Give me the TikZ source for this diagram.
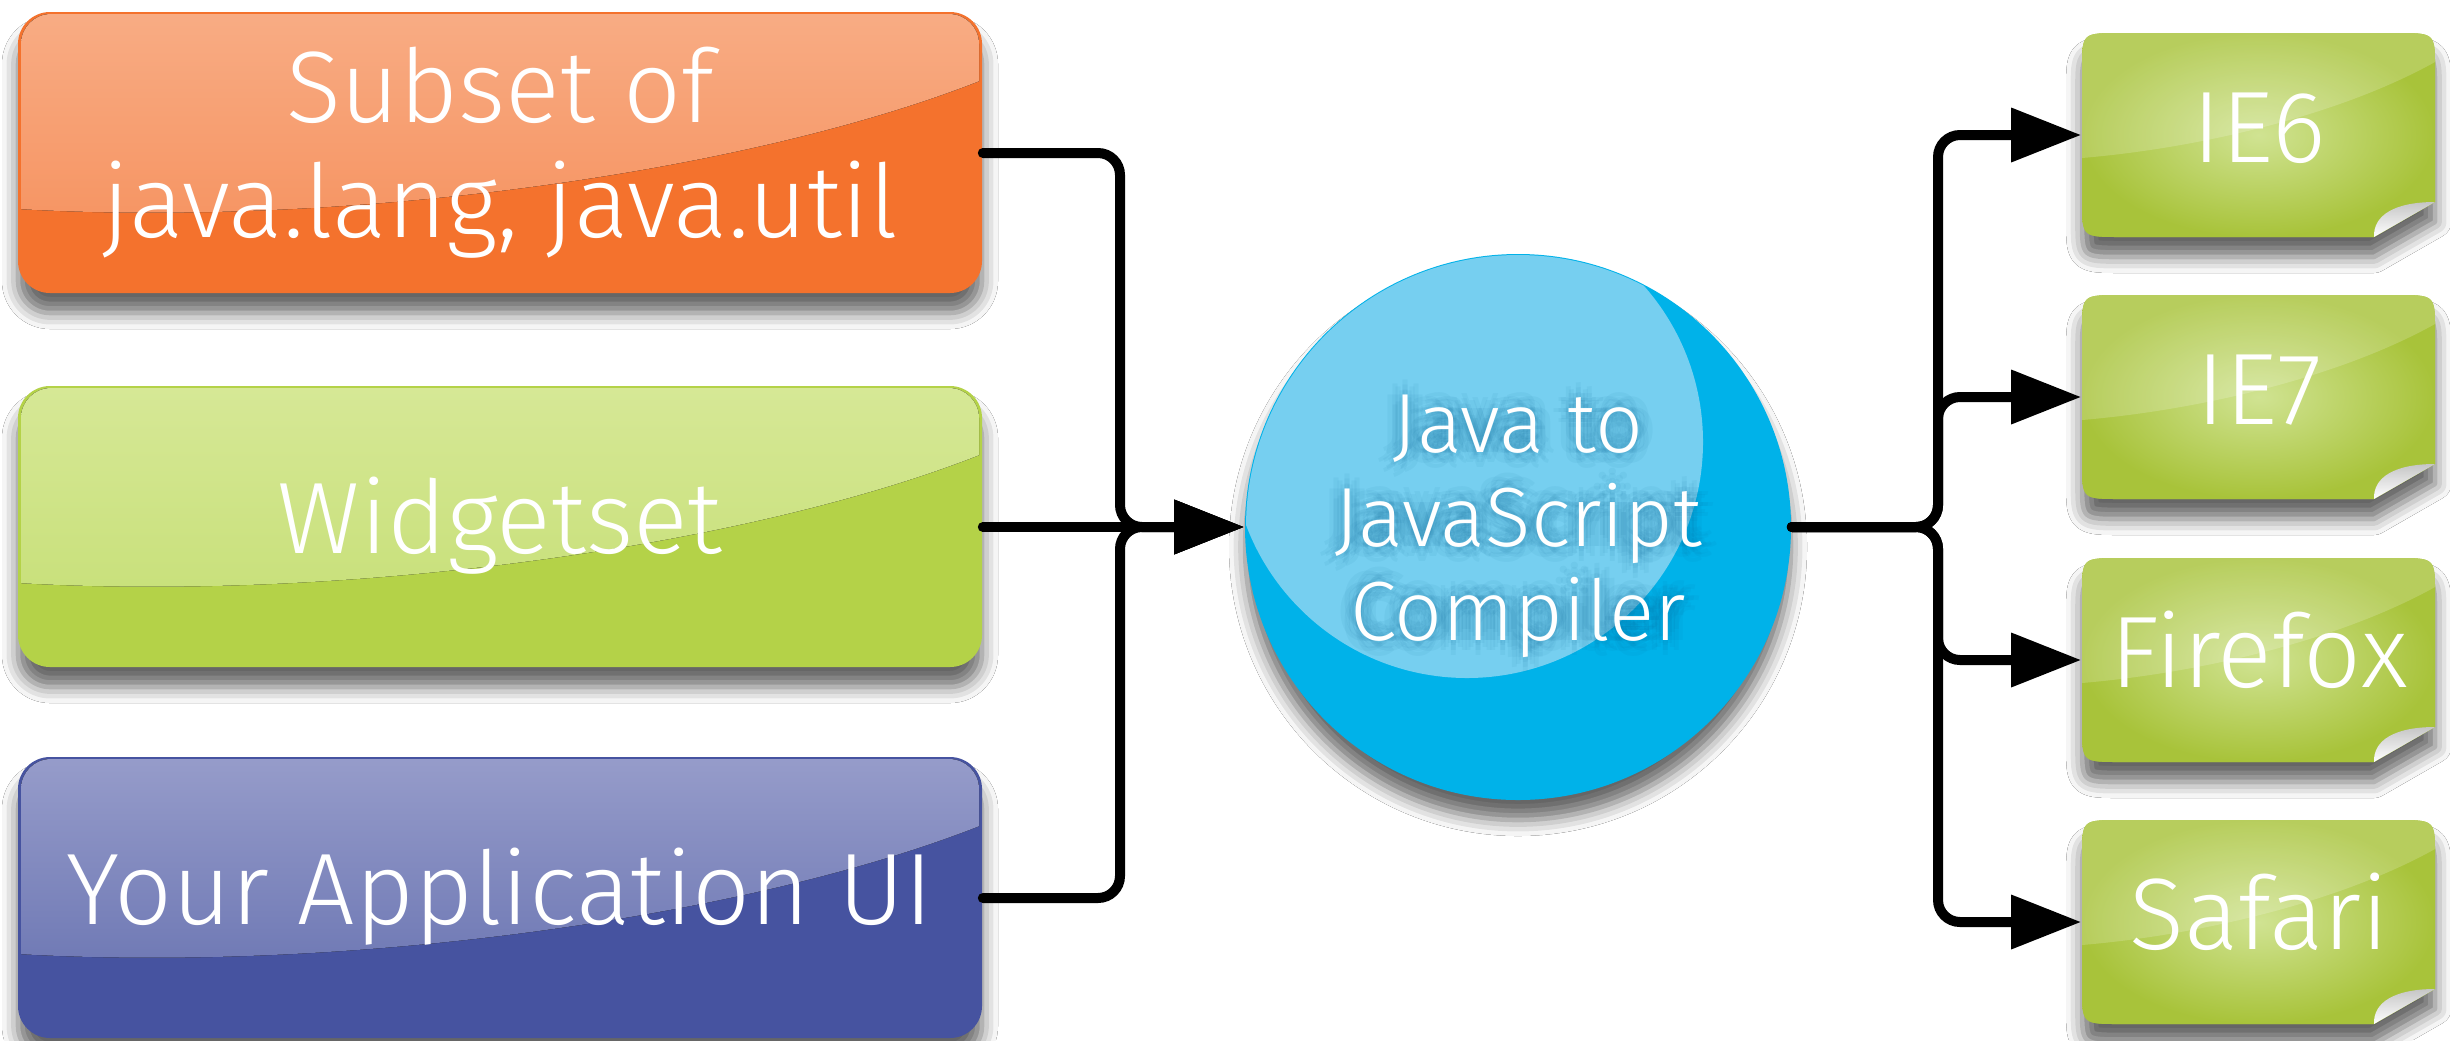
\documentclass[tikz,border=0pt]{standalone}
\usepackage{fontspec}
\IfFontExistsTF{Fira Sans Light}{\setmainfont{Fira Sans Light}}{%
  \IfFontExistsTF{FiraSans-Light}{\setmainfont{FiraSans-Light}}{%
    \IfFontExistsTF{Lato Light}{\setmainfont{Lato Light}}{%
      \IfFontExistsTF{Open Sans Light}{\setmainfont{Open Sans Light}}{%
        \setmainfont{Fira Sans}}}}}
\usetikzlibrary{arrows.meta,shadows.blur}
\definecolor{orA}{RGB}{244,114,45}
\definecolor{orT}{RGB}{248,172,132}
\definecolor{orB}{RGB}{246,148,98}
\definecolor{grA}{RGB}{180,210,72}
\definecolor{grT}{RGB}{214,232,150}
\definecolor{grB}{RGB}{200,224,122}
\definecolor{blA}{RGB}{70,83,160}
\definecolor{blT}{RGB}{150,156,202}
\definecolor{blB}{RGB}{110,120,180}
\definecolor{cyA}{RGB}{0,178,233}
\definecolor{cyL}{RGB}{118,207,240}
\definecolor{lgA}{RGB}{168,195,58}
\definecolor{lgC}{RGB}{208,227,146}
\definecolor{glowc}{RGB}{0,90,140}
\tikzset{
  conn/.style={draw=black, line width=2.5pt, line cap=round, rounded corners=5.5pt,
    -{Triangle[length=17.5pt,width=13pt,fill=black,color=black]}},
  lbl/.style={text=white, font=\fontsize{25.4}{30}\selectfont, anchor=base, inner sep=0pt},
  clbl/.style={text=white, font=\fontsize{21}{25}\selectfont, anchor=base, inner sep=0pt},
  glowlbl/.style={clbl, text=glowc, opacity=0.05},
  boxnode/.style={draw=none, inner sep=0pt, rectangle},
  shad/.style={blur shadow={shadow xshift=0pt, shadow yshift=-5pt,
    shadow blur radius=4pt, shadow opacity=60}},
}
\newcommand\lbox[4]{%
  \fill[#2, rounded corners=8pt, shad] (18,#1) rectangle (982,#1+281);
  \begin{scope}
    \clip[rounded corners=7.5pt] (21,#1+2) rectangle (979,#1+279);
    \fill[top color=#3, bottom color=#4] (18,#1) -- (18,#1+197)
      .. controls (350,#1+216) and (750,#1+160) .. (982,#1+68) -- (982,#1) -- cycle;
  \end{scope}}
\newcommand\rboxpath[1]{(2120,#1) -- (2397,#1) .. controls (2435,#1) .. (2435,#1+36)
  -- (2435,#1+169) -- (2374,#1+204) -- (2120,#1+204) .. controls (2082,#1+204) .. (2082,#1+168)
  -- (2082,#1+36) .. controls (2082,#1) .. (2120,#1) -- cycle}
\newcommand\rbox[1]{%
  \fill[lgA, shad] \rboxpath{#1};
  \shade[inner color=lgC, outer color=lgA] \rboxpath{#1};
  \begin{scope}
    \clip \rboxpath{#1};
    \fill[white, opacity=0.18] (2082,#1) -- (2082,#1+125)
      .. controls (2200,#1+115) and (2340,#1+82) .. (2435,#1+29) -- (2435,#1) -- cycle;
  \end{scope}
  \shade[top color=gray!45, bottom color=white] (2374,#1+204)
    .. controls (2373,#1+182) and (2395,#1+169) .. (2435,#1+169) -- cycle;}
\begin{document}
\begin{tikzpicture}[x=0.25pt,y=-0.25pt]
\useasboundingbox (0,0) rectangle (2450,1040);
\fill[white] (0,0) rectangle (2450,1040);

% left boxes
\lbox{12}{orA}{orT}{orB}
\lbox{386}{grA}{grT}{grB}
\lbox{757}{blA}{blT}{blB}

% compiler circle
\fill[cyA, shad] (1518,527) circle[radius=273];
\begin{scope}
  \clip (1518,527) circle[radius=272];
  \fill[cyL] (1467,442) circle[radius=236];
\end{scope}

% browser boxes
\rbox{33}
\rbox{295}
\rbox{558}
\rbox{820}

% named nodes
\node[boxnode, minimum width=241pt, minimum height=70.25pt] (sub) at (500,153) {};
\node[boxnode, minimum width=241pt, minimum height=70.25pt] (wid) at (500,527) {};
\node[boxnode, minimum width=241pt, minimum height=70.25pt] (app) at (500,898) {};
\node[circle, draw=none, inner sep=0pt, minimum size=136.5pt] (comp) at (1518,527) {};
\node[boxnode, minimum width=88.25pt, minimum height=51pt] (ie6) at (2258.5,135) {};
\node[boxnode, minimum width=88.25pt, minimum height=51pt] (ie7) at (2258.5,397) {};
\node[boxnode, minimum width=88.25pt, minimum height=51pt] (ff) at (2258.5,660) {};
\node[boxnode, minimum width=88.25pt, minimum height=51pt] (saf) at (2258.5,922) {};

% texts
\node[lbl] (t1) at (500,122) {Subset of};
\node[lbl] (t2) at (500,237) {java.lang, java.util};
\node[lbl] (t3) at (500,553) {Widgetset};
\node[lbl] (t4) at (500,924) {Your Application UI};
\node[lbl] (t5) at (2259,162) {IE6};
\node[lbl] (t6) at (2259,424) {IE7};
\node[lbl] (t7) at (2259,687) {Firefox};
\node[lbl] (t8) at (2259,949) {Safari};

\foreach \a in {0,45,...,315}{
  \foreach \r in {5,10,15}{
    \node[glowlbl] (ga-\a-\r) at ([shift={(\a:\r)}]1518,452) {Java to};
    \node[glowlbl] (gb-\a-\r) at ([shift={(\a:\r)}]1518,546) {JavaScript};
    \node[glowlbl] (gc-\a-\r) at ([shift={(\a:\r)}]1518,640) {Compiler};
  }}
\node[clbl] (c1) at (1518,452) {Java to};
\node[clbl] (c2) at (1518,546) {JavaScript};
\node[clbl] (c3) at (1518,640) {Compiler};

% connectors
\draw[conn] (sub.east) -| (1120,527) -- (comp.west);
\draw[conn] (app.east) -| (1120,527) -- (comp.west);
\draw[conn] (wid.east) -- (comp.west);
\draw[conn] (comp.east) -| (1938,135) -- (ie6.west);
\draw[conn] (comp.east) -| (1938,397) -- (ie7.west);
\draw[conn] (comp.east) -| (1938,660) -- (ff.west);
\draw[conn] (comp.east) -| (1938,922) -- (saf.west);
\end{tikzpicture}
\end{document}
